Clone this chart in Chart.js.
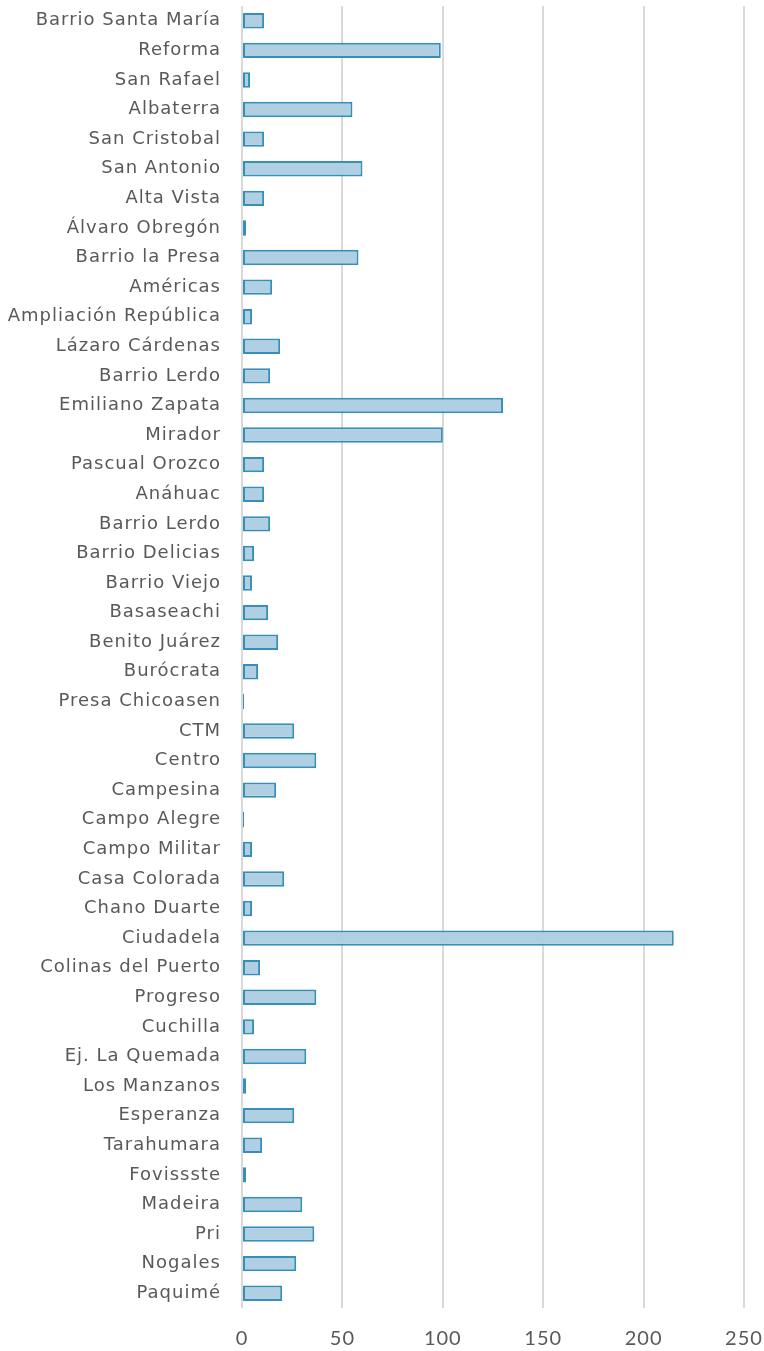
<!DOCTYPE html>
<html>
<head>
<meta charset="utf-8">
<script src="https://cdn.jsdelivr.net/npm/chart.js@4/dist/chart.umd.min.js"></script>
<style>
  html, body { margin: 0; padding: 0; background: #fff; }
  #wrap { width: 764px; height: 1351px; position: relative; }
</style>
</head>
<body>
<div id="wrap"><canvas id="plot"></canvas></div>
<script>
'use strict';

const colonias = [
    "Barrio Santa María", "Reforma", "San Rafael", "Albaterra", "San Cristobal",
    "San Antonio", "Alta Vista", "Álvaro Obregón", "Barrio la Presa", "Américas",
    "Ampliación República", "Lázaro Cárdenas", "Barrio Lerdo", "Emiliano Zapata", "Mirador",
    "Pascual Orozco", "Anáhuac", "Barrio Lerdo", "Barrio Delicias", "Barrio Viejo",
    "Basaseachi", "Benito Juárez", "Burócrata", "Presa Chicoasen", "CTM",
    "Centro", "Campesina", "Campo Alegre", "Campo Militar", "Casa Colorada",
    "Chano Duarte", "Ciudadela", "Colinas del Puerto", "Progreso", "Cuchilla",
    "Ej. La Quemada", "Los Manzanos", "Esperanza", "Tarahumara", "Fovissste",
    "Madeira", "Pri", "Nogales", "Paquimé"
];

const valores = [
    11, 99, 4, 55, 11,
    60, 11, 2, 58, 15,
    5, 19, 14, 130, 100,
    11, 11, 14, 6, 5,
    13, 18, 8, 1, 26,
    37, 17, 1, 5, 21,
    5, 215, 9, 37, 6,
    32, 2, 26, 10, 2,
    30, 36, 27, 20
];

const xTicks = [0, 50, 100, 150, 200, 250];

const labelColor = "#595959";
const gridColor = "#d9d9d9";

// Chart.js pads the plot for overhanging tick labels; the layout padding handles it here
function noAxisPadding(axis) {
    axis.paddingTop = 0;
    axis.paddingBottom = 0;
    axis.paddingLeft = 0;
    axis.paddingRight = 0;
}

// the reference labels are set quite wide, a little tracking gets close to it
const wideText = {
    id: "wideText",
    beforeDraw(chart) {
        chart.ctx.letterSpacing = "1px";
    }
};

const ctx = document.getElementById("plot").getContext("2d");
new Chart(ctx, {
    type: "bar",
    data: {
        labels: colonias,
        datasets: [{
            data: valores,
            backgroundColor: "#b1cfe3",
            borderColor: "#3590b9",
            borderWidth: 2,
            borderSkipped: false,
            categoryPercentage: 1,
            barPercentage: 0.52
        }]
    },
    options: {
        indexAxis: "y",
        responsive: true,
        maintainAspectRatio: false,
        animation: false,
        layout: { padding: { top: 6, right: 20, left: 0, bottom: 0 } },
        plugins: {
            legend: { display: false },
            tooltip: { enabled: false }
        },
        scales: {
            x: {
                min: 0,
                max: 250,
                afterBuildTicks: axis => { axis.ticks = xTicks.map(v => ({ value: v })); },
                grid: { color: gridColor, lineWidth: 2, drawTicks: false },
                border: { display: false },
                ticks: {
                    color: labelColor,
                    padding: 19,
                    maxRotation: 0,
                    font: { family: "Lato", size: 20 }
                },
                afterFit: axis => { axis.height = 43; noAxisPadding(axis); }
            },
            y: {
                grid: { display: false, drawTicks: false },
                border: { display: false },
                ticks: {
                    autoSkip: false,
                    color: labelColor,
                    padding: 21,
                    font: { family: "DejaVu Sans", size: 18 }
                },
                afterFit: axis => { axis.width = 242; noAxisPadding(axis); }
            }
        }
    },
    plugins: [wideText]
});
</script>
</body>
</html>
